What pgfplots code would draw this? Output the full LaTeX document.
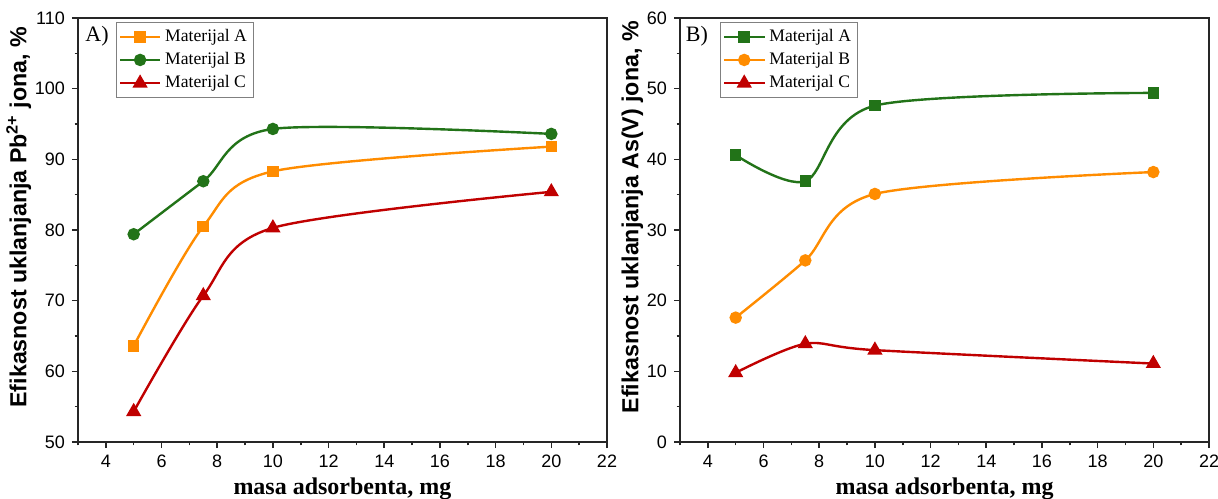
\documentclass[border=0pt]{standalone}
\usepackage{fontspec}
\setmainfont{Liberation Serif}
\setsansfont{Liberation Sans}
\usepackage{pgfplots}
\pgfplotsset{compat=1.18}
\definecolor{cOr}{RGB}{255,140,0}
\definecolor{cGr}{RGB}{34,115,24}
\definecolor{cRd}{RGB}{192,0,0}
\pgfplotsset{myax/.style={
  scale only axis, width=264.5pt, height=212pt,
  xmin=3, xmax=22, xtick={4,6,...,22}, minor xtick={3,5,...,21},
  tick align=outside, xtick pos=bottom, ytick pos=left,
  major tick length=3pt, minor tick length=1.7pt,
  axis line style={line width=0.9pt, black!85},
  every tick/.style={line width=0.8pt, black!85},
  tick label style={font=\sffamily\fontsize{9}{10}\selectfont},
  /pgf/number format/assume math mode=true,
  xlabel={\bfseries masa adsorbenta, mg},
  xlabel style={font=\rmfamily\fontsize{12}{13}\selectfont, yshift=2pt},
  ylabel style={font=\sffamily\bfseries\fontsize{11.6}{13}\selectfont, at={(ticklabel cs:0.53)}},
  ylabel shift=-5pt,
  legend style={at={(0.072,0.99)}, anchor=north west, draw=black!50, line width=0.5pt,
    font=\rmfamily\fontsize{8.8}{11.5}\selectfont, inner sep=1.2pt, row sep=0pt,
    cells={anchor=west}},
  legend image code/.code={\draw[mark repeat=2,mark phase=2] plot coordinates {(0cm,0cm) (0.35cm,0cm) (0.7cm,0cm)};},
  every axis plot/.append style={line width=1.2pt, smooth},
}}
\begin{document}
\begin{tikzpicture}
\path[use as bounding box] (-39pt,-28pt) rectangle (570pt,221pt);
\begin{axis}[myax, at={(0pt,0pt)}, anchor=south west,
  ymin=50, ymax=110, ytick={50,60,...,110}, minor ytick={55,65,...,105},
  ylabel={Efikasnost uklanjanja Pb\textsuperscript{2+} jona, \%}]
\addplot[cOr, mark=square*, mark size=2.3pt] coordinates {(5,63.6) (7.5,80.5) (10,88.3) (20,91.8)};
\addlegendentry{Materijal A}
\addplot[cGr, mark=*, mark size=2.5pt] coordinates {(5,79.4) (7.5,86.9) (10,94.3) (20,93.6)};
\addlegendentry{Materijal B}
\addplot[cRd, mark=triangle*, mark size=3.2pt] coordinates {(5,54.3) (7.5,70.7) (10,80.3) (20,85.4)};
\addlegendentry{Materijal C}
\node[font=\rmfamily\fontsize{11}{12}\selectfont] at (rel axis cs:0.036,0.958) {A)};
\end{axis}
\begin{axis}[myax, at={(301pt,0pt)}, anchor=south west,
  ymin=0, ymax=60, ytick={0,10,...,60}, minor ytick={5,15,...,55},
  legend style={at={(0.076,0.99)}},
  ylabel={Efikasnost uklanjanja As(V) jona, \%}]
\addplot[cGr, mark=square*, mark size=2.3pt] coordinates {(5,40.6) (7.5,36.9) (10,47.6) (20,49.4)};
\addlegendentry{Materijal A}
\addplot[cOr, mark=*, mark size=2.5pt] coordinates {(5,17.6) (7.5,25.7) (10,35.1) (20,38.2)};
\addlegendentry{Materijal B}
\addplot[cRd, mark=triangle*, mark size=3.2pt] coordinates {(5,9.8) (7.5,13.9) (10,13.0) (20,11.1)};
\addlegendentry{Materijal C}
\node[font=\rmfamily\fontsize{11}{12}\selectfont] at (rel axis cs:0.032,0.958) {B)};
\end{axis}
\end{tikzpicture}
\end{document}
